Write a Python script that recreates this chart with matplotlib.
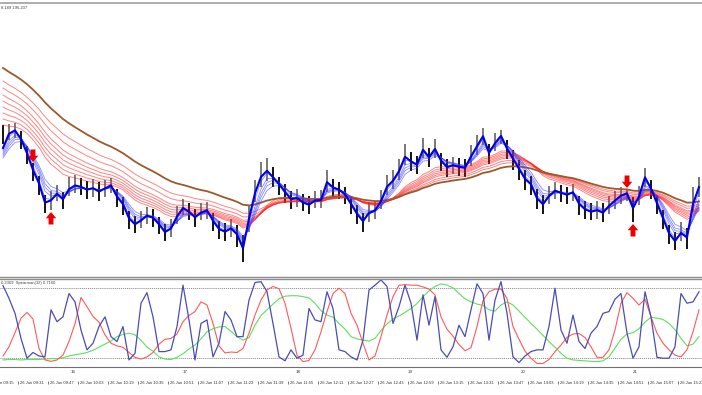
import numpy as np
import matplotlib
matplotlib.use("Agg")
import matplotlib.pyplot as plt

# --- price samples: one every 3.2 one-minute bars, heights above the panel floor ---
closes = [142, 145, 147, 137, 122, 105, 92, 72, 77, 84,
          77, 89, 92, 90, 87, 89, 85, 89, 92, 79,
          72, 57, 52, 57, 62, 59, 52, 44, 49, 62,
          70, 65, 59, 65, 67, 55, 47, 45, 49, 42,
          27, 62, 87, 102, 107, 99, 92, 84, 77, 79,
          74, 72, 77, 77, 97, 89, 87, 82, 72, 62,
          55, 65, 67, 77, 92, 97, 107, 122, 115, 112,
          129, 119, 129, 115, 109, 112, 110, 109, 122, 132,
          142, 122, 135, 142, 127, 117, 107, 97, 92, 77,
          72, 82, 87, 84, 82, 85, 72, 67, 65, 67,
          64, 72, 77, 82, 84, 67, 82, 102, 87, 72,
          57, 42, 35, 45, 39, 77, 92]
highs = [152, 153, 154, 146, 131, 114, 101, 82, 86, 92,
         85, 100, 102, 99, 96, 98, 95, 97, 99, 88,
         80, 66, 61, 66, 70, 68, 60, 53, 58, 71,
         78, 74, 68, 74, 75, 64, 56, 54, 58, 52,
         42, 72, 97, 115, 119, 110, 100, 93, 86, 88,
         83, 81, 86, 87, 107, 98, 95, 90, 81, 72,
         64, 75, 76, 87, 102, 107, 118, 133, 125, 121,
         139, 129, 138, 124, 118, 120, 119, 118, 132, 142,
         149, 133, 144, 147, 137, 127, 117, 107, 101, 88,
         82, 91, 95, 92, 90, 93, 81, 76, 74, 76,
         74, 81, 86, 90, 88, 80, 91, 109, 97, 82,
         67, 52, 45, 55, 49, 90, 100]
lows = [133, 137, 139, 128, 113, 96, 82, 64, 67, 76,
        68, 81, 84, 82, 78, 80, 76, 80, 84, 70,
        62, 48, 44, 49, 53, 50, 43, 36, 40, 53,
        62, 57, 50, 57, 58, 46, 38, 36, 40, 30,
        15, 45, 75, 90, 96, 90, 82, 74, 68, 70,
        66, 63, 69, 69, 85, 80, 78, 73, 63, 53,
        45, 55, 58, 68, 82, 88, 97, 112, 106, 103,
        119, 110, 119, 106, 100, 103, 101, 100, 111, 122,
        132, 113, 126, 133, 118, 107, 97, 87, 82, 68,
        63, 73, 78, 75, 73, 76, 62, 58, 57, 58,
        55, 63, 68, 73, 76, 55, 72, 90, 78, 63,
        48, 33, 27, 36, 28, 65, 80]

sell_idx = [5, 104]
buy_idx = [8, 105]

# moving-average ribbons (periods in one-minute bars, value at first sample)
blue_periods = [3, 5, 8, 10, 12, 15]
blue_start = [129, 127, 125, 123, 121, 119]
red_periods = [35, 40, 45, 50, 55, 60, 70, 80]
red_start = [152, 158, 164, 170, 176, 182, 189, 196]
brown_period = 100
brown_start = 209

# lower window: three Spearman rank lines
spear_fast = [0.85, 0.56, 0.22, -0.35, -0.80, -0.67, -0.75, -0.77, 0.30, 0.03,
              0.14, 0.67, 0.48, -0.16, -0.61, -0.46, -0.08, 0.14, -0.31, -0.42,
              -0.08, -0.84, -0.69, 0.45, 0.69, 0.14, -0.65, -0.65, -0.61, -0.08,
              0.86, 0.07, -0.84, -0.01, 0.07, -0.77, -0.46, 0.26, 0.07, -0.31,
              -0.31, 0.52, 0.92, 0.94, 0.71, -0.01, -0.77, -0.86, -0.61, -0.80,
              -0.73, 0.33, 0.07, 0.03, 0.71, 0.33, -0.61, -0.65, -0.77,
              -0.84, -0.39, 0.75, 0.86, 0.98, 0.83, -0.01, 0.37, 0.86, 0.45,
              -0.39, 0.64, -0.05, 0.60, -0.61, -0.78, -0.54, -0.05, -0.31, 0.30,
              0.89, 0.67, -0.39, 0.52, 0.94, 0.22, -0.77, -0.90, -0.75, -0.65,
              -0.61, -0.61, -0.08, 0.79, -0.16, -0.46, 0.18, -0.42, -0.58, -0.23,
              -0.08, 0.22, 0.26, 0.54, 0.67, -0.23, -0.80, -0.54, 0.71, 0.14,
              -0.78, -0.80, -0.80, -0.54, 0.67, 0.45, 0.48, 0.71]
spear_mid = [-0.75, -0.54, -0.22, 0.11, 0.24, 0.09, -0.58, -0.84, -0.87, -0.84,
             -0.73, -0.42, -0.02, 0.58, 0.37, 0.15, 0.02, -0.27, -0.46, -0.52,
             -0.55, -0.67, -0.78, -0.82, -0.77, -0.67, -0.48, -0.37, -0.35, -0.25,
             0.03, 0.17, 0.26, 0.48, 0.41, -0.01, -0.52, -0.68, -0.66, -0.67,
             -0.58, -0.23, 0.18, 0.52, 0.75, 0.83, 0.78, 0.45, -0.12, -0.73,
             -0.88, -0.85, -0.61, -0.20, 0.26, 0.67, 0.79, 0.67, 0.22,
             -0.05, -0.46, -0.84, -0.75, -0.31, 0.18, 0.60, 0.86, 0.87, 0.86,
             0.86, 0.82, 0.77, 0.64, 0.14, -0.14, -0.30, -0.49, -0.63, -0.56,
             -0.08, 0.51, 0.71, 0.77, 0.77, 0.56, -0.08, -0.37, -0.64, -0.80,
             -0.92, -0.92, -0.83, -0.65, -0.50, -0.33, -0.25, -0.24, -0.33, -0.54,
             -0.78, -0.78, -0.61, -0.16, 0.45, 0.69, 0.56, 0.41, 0.54, 0.14,
             -0.23, -0.46, -0.61, -0.73, -0.77, -0.61, -0.20, 0.30]
spear_slow = [-0.84, -0.83, -0.83, -0.84, -0.83, -0.83, -0.83, -0.82, -0.81, -0.81,
              -0.79, -0.75, -0.72, -0.70, -0.67, -0.62, -0.55, -0.48, -0.41, -0.31,
              -0.26, -0.23, -0.27, -0.39, -0.55, -0.64, -0.77, -0.82, -0.83, -0.78,
              -0.70, -0.59, -0.50, -0.36, -0.20, -0.13, -0.09, -0.08, -0.19, -0.31,
              -0.39, -0.33, -0.05, 0.17, 0.30, 0.43, 0.55, 0.61, 0.62, 0.62,
              0.60, 0.57, 0.45, 0.28, 0.18, 0.13, -0.01, -0.14, -0.31,
              -0.36, -0.39, -0.41, -0.35, -0.17, -0.02, 0.09, 0.16, 0.24, 0.33,
              0.44, 0.60, 0.73, 0.83, 0.89, 0.86, 0.80, 0.67, 0.55, 0.48,
              0.43, 0.40, 0.30, 0.27, 0.41, 0.48, 0.41, 0.27, 0.13, -0.01,
              -0.14, -0.28, -0.42, -0.55, -0.69, -0.80, -0.84, -0.85, -0.86, -0.87,
              -0.88, -0.86, -0.77, -0.57, -0.37, -0.25, -0.22, -0.13, 0.02, 0.13,
              0.11, 0.08, -0.01, -0.15, -0.35, -0.52, -0.48, -0.31]

# time axis: minutes after 09:00
first_min = 22.84
bars_per_sample = 3.2
x_left, x_right = 21.24, 395.64
time_labels = ["26 Jun 09:15", "26 Jun 09:31", "26 Jun 09:47", "26 Jun 10:03",
               "26 Jun 10:19", "26 Jun 10:35", "26 Jun 10:51", "26 Jun 11:07",
               "26 Jun 11:23", "26 Jun 11:39", "26 Jun 11:55", "26 Jun 12:11",
               "26 Jun 12:27", "26 Jun 12:43", "26 Jun 12:59", "26 Jun 13:15",
               "26 Jun 13:31", "26 Jun 13:47", "26 Jun 14:03", "26 Jun 14:19",
               "26 Jun 14:35", "26 Jun 14:51", "26 Jun 15:07", "26 Jun 15:23"]
time_minutes = [15, 31, 47, 63, 79, 95, 111, 127, 143, 159, 175, 191,
                207, 223, 239, 255, 271, 287, 303, 319, 335, 351, 367, 383]
day_labels = ["16", "17", "18", "19", "20", "21"]
day_minutes = [60, 120, 180, 240, 300, 360]


def ema(values, period, start):
    a = 1 - (1 - 2.0 / (period + 1)) ** bars_per_sample
    out = [start]
    for v in values[1:]:
        out.append(out[-1] + a * (v - out[-1]))
    return np.array(out)


n = len(closes)
t = first_min + bars_per_sample * np.arange(n)

W, H = 702, 395
fig = plt.figure(figsize=(W / 100, H / 100), dpi=100)
fig.patch.set_facecolor("white")
ax = fig.add_axes([0, 118 / H, 1, 274 / H])
ax2 = fig.add_axes([0, 28 / H, 1, 88 / H])
axl = fig.add_axes([0, 0, 1, 28 / H])

# --- main window ---
up = [i > 0 and closes[i] >= closes[i - 1] for i in range(n)]
ax.vlines(t, lows, highs, colors=["#6e6e6e" if u else "black" for u in up], lw=1.3, zorder=2)

for p, s in zip(red_periods, red_start):
    ax.plot(t, ema(closes, p, s), color="#ff2020", lw=0.7, alpha=0.55, zorder=3)
ax.plot(t, ema(closes, brown_period, brown_start), color="#9b5a2b", lw=1.3, zorder=4)
for p, s in zip(blue_periods[1:], blue_start[1:]):
    ax.plot(t, ema(closes, p, s), color="#3a3aff", lw=0.6, alpha=0.6, zorder=5)
ax.plot(t, ema(closes, blue_periods[0], blue_start[0]), color="#0000e6", lw=1.5, zorder=6)

arrow = dict(arrowstyle="simple,head_length=0.45,head_width=0.75,tail_width=0.35",
             fc="#ee0000", ec="#ee0000", lw=0, shrinkA=0, shrinkB=0, mutation_scale=10)
for i in sell_idx:
    ax.annotate("", xy=(t[i], highs[i] + 1), xytext=(0, 9), textcoords="offset points",
                arrowprops=arrow, zorder=7)
for i in buy_idx:
    ax.annotate("", xy=(t[i], lows[i] - 2), xytext=(0, -9), textcoords="offset points",
                arrowprops=arrow, zorder=7)

ax.set_xlim(x_left, x_right)
ax.set_ylim(0, 274)
ax.set_xticks([])
ax.set_yticks([])
for side in ["left", "right"]:
    ax.spines[side].set_visible(False)
ax.spines["top"].set_color("#a0a0a0")
ax.spines["top"].set_linewidth(1.2)
ax.spines["bottom"].set_color("#8c8c8c")
ax.spines["bottom"].set_linewidth(1.0)
ax.text(1 / W, 1 - 5 / 274, "8.189 196.207", transform=ax.transAxes, ha="left",
        va="center", fontsize=3.0, family="Liberation Sans", color="#444444")

# --- Spearman window ---
ax2.axhline(0.8, color="#888888", lw=0.7, dashes=(1, 1))
ax2.axhline(-0.8, color="#888888", lw=0.7, dashes=(1, 1))
ax2.plot(t, spear_slow, color="#5ee05e", lw=0.8)
ax2.plot(t, spear_mid, color="#ff5a5a", lw=0.8)
ax2.plot(t, spear_fast, color="#4c4cb4", lw=0.9)
ax2.set_xlim(x_left, x_right)
ax2.set_ylim(-1, 1)
ax2.set_xticks([])
ax2.set_yticks([])
for side in ["left", "right"]:
    ax2.spines[side].set_visible(False)
ax2.spines["top"].set_color("#8c8c8c")
ax2.spines["top"].set_linewidth(1.0)
ax2.spines["bottom"].set_color("#707070")
ax2.spines["bottom"].set_linewidth(0.8)
ax2.text(1 / W, 1 - 4 / 88, "0.2369  Spearman(32) 0.7160", transform=ax2.transAxes,
         ha="left", va="center", fontsize=3.0, family="Liberation Sans", color="#444444")

# --- time scale ---
axl.set_xlim(x_left, x_right)
axl.set_ylim(28, 0)
axl.axis("off")
for m, lab in zip(day_minutes, day_labels):
    axl.text(m, 5, lab, ha="center", va="center", fontsize=3.2,
             family="Liberation Sans", color="#333333")
for m, lab in zip(time_minutes, time_labels):
    axl.vlines(m, 14, 17, color="#444444", lw=0.5)
    axl.text(m + 0.7, 16, lab, ha="left", va="center", fontsize=3.0,
             family="Liberation Sans", color="#333333")

fig.savefig("out.png", dpi=100, facecolor="white")
